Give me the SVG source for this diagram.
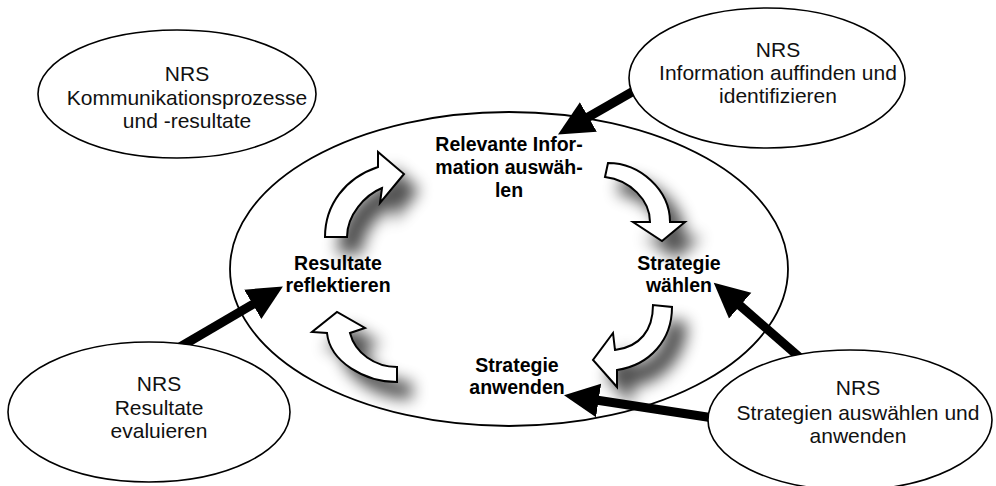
<svg xmlns="http://www.w3.org/2000/svg" width="996" height="486" viewBox="0 0 996 486">
<style>
.ell{fill:#fff;stroke:#000;stroke-width:1.6}
.big{fill:none;stroke:#000;stroke-width:1.8}
.nt{font-family:"Liberation Sans",Arial,sans-serif;font-size:21px;fill:#111;text-anchor:middle}
.lt{font-family:"Liberation Sans",Arial,sans-serif;font-size:19.5px;font-weight:bold;fill:#000;text-anchor:middle}
.ca{fill:#fff;stroke:#000;stroke-width:2;stroke-linejoin:miter;filter:url(#sh)}
.sa{fill:none;stroke:#000;stroke-width:9;marker-end:url(#ah)}
</style>
<defs>
<filter id="sh" x="-60%" y="-60%" width="240%" height="240%">
<feGaussianBlur in="SourceAlpha" stdDeviation="8"/>
<feOffset dx="14" dy="16" result="b"/>
<feComponentTransfer><feFuncA type="linear" slope="0.7"/></feComponentTransfer>
<feMerge><feMergeNode/><feMergeNode in="SourceGraphic"/></feMerge>
</filter>
<marker id="ah" viewBox="0 -18 36 36" markerWidth="36" markerHeight="36" refX="1" refY="0" orient="auto" markerUnits="userSpaceOnUse">
<path d="M0,-17 L35,0 L0,17 Z" fill="#000"/>
</marker>
</defs>
<rect width="996" height="486" fill="#fff"/>
<g id="cycle"><ellipse class="big" cx="509" cy="269" rx="279" ry="157"/></g>
<g id="connectors">
<path class="ca" d="M325,237 C325,205 345,178 378,167 L378,152 L404,174 L380,203 L382,188 C365,195 347,215 347,237 Z"/>
<path class="ca" d="M608,163 C640,163 670,190 670,222 L685,222 L662,241 L633,222 L650,222 C650,200 630,180 605,177 Z"/>
<path class="ca" d="M672,307 C672,340 650,365 617,370 L617,387 L593,360 L613,333 L615,350 C640,347 653,330 653,305 Z"/>
<path class="ca" d="M397,382 C365,382 330,362 327,333 L312,332 L337,312 L365,328 L350,333 C355,353 375,367 397,367 Z"/>
<line class="sa" x1="645" y1="84.5" x2="587.5" y2="117.5"/>
<line class="sa" x1="180" y1="347" x2="253.6" y2="303.8"/>
<line class="sa" x1="804.5" y1="361.6" x2="739.4" y2="305"/>
<line class="sa" x1="720" y1="419" x2="597.6" y2="400.3"/>
</g>
<g id="nrs-kommunikation">
<ellipse class="ell" cx="177" cy="94" rx="139" ry="64"/>
<text class="nt" x="187" y="81">NRS</text>
<text class="nt" x="187" y="105">Kommunikationsprozesse</text>
<text class="nt" x="187" y="128">und -resultate</text>
</g>
<g id="nrs-information">
<ellipse class="ell" cx="767" cy="78" rx="138" ry="70"/>
<text class="nt" x="778" y="57">NRS</text>
<text class="nt" x="778" y="80">Information auffinden und</text>
<text class="nt" x="778" y="103">identifizieren</text>
</g>
<g id="nrs-resultate">
<ellipse class="ell" cx="149" cy="412" rx="141" ry="70"/>
<text class="nt" x="159" y="391">NRS</text>
<text class="nt" x="159" y="415">Resultate</text>
<text class="nt" x="159" y="438">evaluieren</text>
</g>
<g id="nrs-strategien">
<ellipse class="ell" cx="850" cy="420" rx="142" ry="70"/>
<text class="nt" x="858" y="395">NRS</text>
<text class="nt" x="858" y="420">Strategien auswählen und</text>
<text class="nt" x="858" y="443">anwenden</text>
</g>
<g id="relevante-information">
<text class="lt" x="509" y="151">Relevante Infor-</text>
<text class="lt" x="509" y="174">mation auswäh-</text>
<text class="lt" x="509" y="197">len</text>
</g>
<g id="strategie-waehlen">
<text class="lt" x="679" y="270">Strategie</text>
<text class="lt" x="679" y="292">wählen</text>
</g>
<g id="strategie-anwenden">
<text class="lt" x="517" y="372">Strategie</text>
<text class="lt" x="517" y="394">anwenden</text>
</g>
<g id="resultate-reflektieren">
<text class="lt" x="338" y="270">Resultate</text>
<text class="lt" x="338" y="292">reflektieren</text>
</g>
</svg>
